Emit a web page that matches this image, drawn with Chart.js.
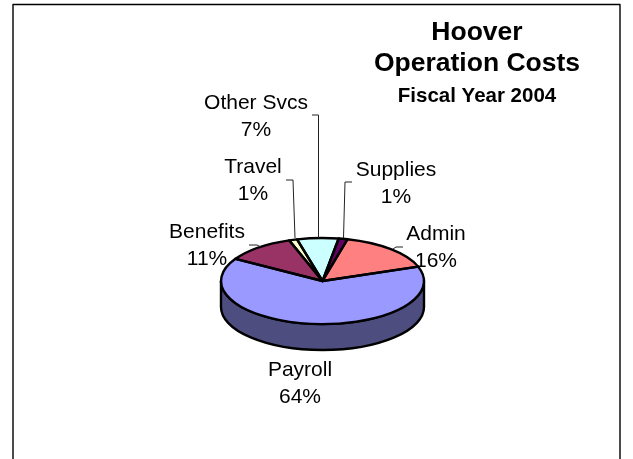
<!DOCTYPE html>
<html>
<head>
<meta charset="utf-8">
<title>Hoover Operation Costs</title>
<script src="https://cdn.jsdelivr.net/npm/chart.js@4"></script>
<style>
    html, body { margin: 0; padding: 0; background: #fff; }
    canvas { display: block; }
</style>
</head>
<body>
<canvas id="grafico-custos" width="633" height="459"></canvas>
<script>
/* DATA */
const categorias = ["Admin", "Payroll", "Benefits", "Travel", "Other Svcs", "Supplies"];
const valores = [15.7, 64.2, 11.1, 1.3, 6.6, 1.4];
const cores = ["#FF8080", "#9999FF", "#993366", "#FFFFCC", "#CCFFFF", "#660066"];
const coresLado = ["#804040", "#4D4D80", "#4D1A33", "#808066", "#668080", "#330033"];
const titulos = ["Hoover", "Operation Costs", "Fiscal Year 2004"];

/* LAYOUT */
const achatado = 0.424;      // squash of the pie
const profundidade = 26;     // height of the side wall
const posRotulos = [[436, 234], [300, 370], [207, 232], [253, 167], [256, 103], [396, 170]];
const guias = [
    [[393, 249], [396, 247], [403, 247]],
    null,
    [[261, 247], [257, 245], [249, 245]],
    [[295, 238], [293, 180], [286, 180]],
    [[318.5, 238], [318.5, 115], [312, 115]],
    [[343.5, 238], [345, 182], [352, 182]]
];

function fonte(peso, px) {
    return peso + " " + px + "px 'Liberation Sans', Arial, sans-serif";
}

/* 3D PIE: squashes the arcs of the library and adds wall, outlines and text */
const pie3d = {
    id: "pie3d",
    beforeDatasetsDraw(chart) {
        const ctx = chart.ctx;
        const arcs = chart.getDatasetMeta(0).data;
        const cx = arcs[0].x, cy = arcs[0].y, rx = arcs[0].outerRadius, ry = rx * achatado;

        // side wall, only the front half of the ellipse can be seen
        ctx.save();
        ctx.strokeStyle = "#000";
        ctx.lineWidth = 2.4;
        ctx.lineJoin = "round";
        arcs.forEach(function (arc, i) {
            const voltas = [0, Math.PI * 2, -Math.PI * 2];
            voltas.forEach(function (v) {
                const ini = Math.max(arc.startAngle + v, 0);
                const fim = Math.min(arc.endAngle + v, Math.PI);
                if (fim <= ini) return;
                ctx.beginPath();
                ctx.ellipse(cx, cy, rx, ry, 0, ini, fim);
                ctx.ellipse(cx, cy + profundidade, rx, ry, 0, fim, ini, true);
                ctx.closePath();
                ctx.fillStyle = coresLado[i];
                ctx.fill();
                ctx.stroke();
            });
        });
        ctx.restore();
    },
    beforeDatasetDraw(chart) {
        const ctx = chart.ctx;
        const arc = chart.getDatasetMeta(0).data[0];
        ctx.save();
        ctx.translate(arc.x, arc.y);
        ctx.scale(1, achatado);
        ctx.translate(-arc.x, -arc.y);
    },
    afterDatasetDraw(chart) {
        chart.ctx.restore();
    },
    afterDatasetsDraw(chart) {
        const ctx = chart.ctx;
        const arcs = chart.getDatasetMeta(0).data;
        const total = valores.reduce(function (a, b) { return a + b; }, 0);

        // slice outlines, drawn after the squash so the pen keeps its width
        ctx.save();
        ctx.strokeStyle = "#000";
        ctx.lineWidth = 2.4;
        ctx.lineJoin = "round";
        arcs.forEach(function (arc) {
            ctx.beginPath();
            ctx.moveTo(arc.x, arc.y);
            ctx.ellipse(arc.x, arc.y, arc.outerRadius, arc.outerRadius * achatado, 0, arc.startAngle, arc.endAngle);
            ctx.closePath();
            ctx.stroke();
        });

        // leader lines
        ctx.strokeStyle = "#222";
        ctx.lineWidth = 1;
        guias.forEach(function (g) {
            if (!g) return;
            ctx.beginPath();
            g.forEach(function (p, i) {
                if (i == 0) ctx.moveTo(p[0], p[1]);
                else ctx.lineTo(p[0], p[1]);
            });
            ctx.stroke();
        });

        // slice labels
        ctx.fillStyle = "#000";
        ctx.textAlign = "center";
        ctx.textBaseline = "middle";
        ctx.font = fonte("normal", 21);
        categorias.forEach(function (nome, i) {
            const pos = posRotulos[i];
            ctx.fillText(nome, pos[0], pos[1]);
            ctx.fillText(Math.round(valores[i] / total * 100) + "%", pos[0], pos[1] + 27);
        });

        // title
        ctx.font = fonte("bold", 26.5);
        ctx.fillText(titulos[0], 477, 33);
        ctx.fillText(titulos[1], 477, 64);
        ctx.font = fonte("bold", 20.5);
        ctx.fillText(titulos[2], 477, 96);

        // chart frame, it runs off the bottom of the page
        ctx.strokeStyle = "#000";
        ctx.lineWidth = 1.4;
        ctx.beginPath();
        ctx.moveTo(13, 459);
        ctx.lineTo(13, 4.5);
        ctx.lineTo(620, 4.5);
        ctx.lineTo(620, 459);
        ctx.stroke();
        ctx.restore();
    }
};

/* GRÁFICO */
new Chart(document.getElementById("grafico-custos"), {
    type: "pie",
    plugins: [pie3d],
    data: {
        labels: categorias,
        datasets: [{
            data: valores,
            backgroundColor: cores,
            borderWidth: 0,
            hoverOffset: 0
        }]
    },
    options: {
        responsive: false,
        animation: false,
        rotation: 14.2,
        layout: {
            padding: { left: 221, right: 209, top: 179.5, bottom: 76.5 }
        },
        plugins: {
            legend: { display: false },
            tooltip: { enabled: false }
        }
    }
});
</script>
</body>
</html>
